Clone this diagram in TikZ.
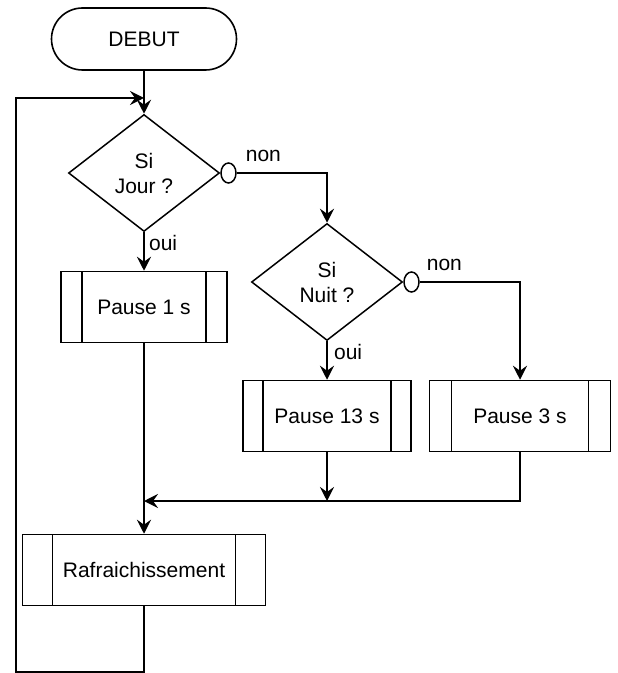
\documentclass[tikz,border=0pt]{standalone}
\usepackage{fontspec}
\setmainfont{Liberation Sans}
\usetikzlibrary{arrows.meta,shapes.geometric}

\tikzset{process/.style={draw,-,line width=0.75pt,rectangle,minimum height=35.5pt,
    path picture={
      \draw[-,line width=0.6pt] ([xshift=#1]path picture bounding box.north west)
                             -- ([xshift=#1]path picture bounding box.south west);
      \draw[-,line width=0.6pt] ([xshift=-#1]path picture bounding box.north east)
                             -- ([xshift=-#1]path picture bounding box.south east);}},
  process/.default=10.5pt}

\begin{document}
\begin{tikzpicture}[x=0.5pt,y=-0.5pt,->,>={Stealth[length=7pt,width=7pt,inset=2.5pt]},
                    line width=1.1pt,node distance=67pt,
                    font=\fontsize{10.5}{12.5}\selectfont]

  \tikzstyle{terminal}=[draw,line width=0.8pt,rectangle,rounded corners=15.5pt,
                        minimum width=92.5pt,minimum height=31pt]
  \tikzstyle{decision}=[draw,line width=0.75pt,diamond,align=center,inner sep=0pt,
                        minimum width=75.5pt,minimum height=58.5pt]
  \tikzstyle{branch}=[draw,line width=0.75pt,ellipse,inner sep=0pt,
                      minimum width=7.5pt,minimum height=10pt]
  \tikzstyle{answer}=[inner sep=1pt]

  \useasboundingbox (0,0) rectangle (617,673);

  \node[terminal] (debut) at (144,39)    {DEBUT};
  \node[decision] (jour) [below of=debut] {Si \\ Jour ?};
  \node[process,minimum width=83pt] (p1) [below of=jour] {Pause 1 s};
  \node[process=15pt,minimum width=121.5pt] (raf)
       [node distance=131.5pt,below of=p1] {Rafraichissement};

  \node[decision] (nuit) [node distance=91.5pt,right of=jour,yshift=-54.5pt] {Si \\ Nuit ?};
  \node[process=10pt,minimum width=84pt] (p13) [below of=nuit] {Pause 13 s};
  \node[process=11pt,minimum width=90.5pt] (p3)
       [node distance=96.5pt,right of=p13] {Pause 3 s};

  \node[branch] (o1) at (jour.east) [anchor=west] {};
  \node[branch] (o2) at (nuit.east) [anchor=west] {};

  \coordinate (merge) at (144,501);
  \coordinate (back)  at (16,98);

  \path
  (debut) edge                                                   (jour)
  (jour)  edge node[answer,pos=0,anchor=north west,xshift=1pt] {oui} (p1)
  (nuit)  edge node[answer,pos=0,anchor=north west,xshift=2pt] {oui} (p13)
  (p1)    edge                                                   (raf)
  (p13)   edge                                                   (p13 |- merge)
  ;

  \draw (o1) -| node[answer,pos=0,anchor=south west,xshift=3pt,yshift=4pt] {non} (nuit);
  \draw (o2) -| node[answer,pos=0,anchor=south west,xshift=2pt,yshift=4pt] {non} (p3);
  \draw (p3) |- (merge);
  \draw (raf.south) -- ++(0,66) -| (back) -- (back -| jour.north);
\end{tikzpicture}
\end{document}
